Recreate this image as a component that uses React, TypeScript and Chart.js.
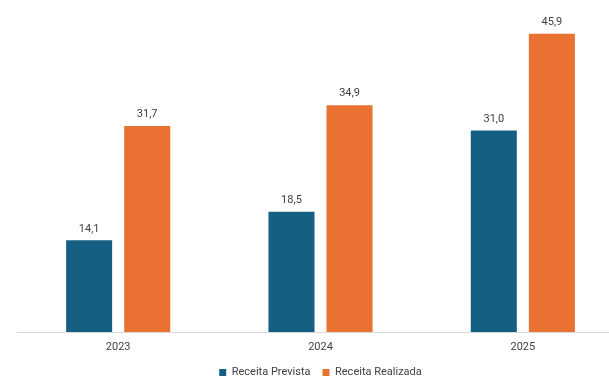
import React, { useEffect, useRef } from "react";
import { Chart, registerables } from "chart.js";

Chart.register(...registerables);

const categories = ["2023", "2024", "2025"];
const seriesNames = ["Receita Prevista", "Receita Realizada"];
const previstaValues = [14.1, 18.5, 31.0];
const realizadaValues = [31.7, 34.9, 45.9];
const seriesColors = ["#156082", "#E97132"];

const FONT = "Roboto, 'Liberation Sans', sans-serif";

const valueLabels = {
  id: "valueLabels",
  afterDatasetsDraw(chart: any) {
    const ctx = chart.ctx;
    ctx.save();
    ctx.font = `11px ${FONT}`;
    ctx.fillStyle = "#404040";
    ctx.textAlign = "center";
    ctx.textBaseline = "middle";
    chart.data.datasets.forEach((ds: any, di: number) => {
      const meta = chart.getDatasetMeta(di);
      meta.data.forEach((bar: any, i: number) => {
        const v = ds.data[i] as number;
        ctx.fillText(v.toFixed(1).replace(".", ","), bar.x, bar.y - 11.5);
      });
    });
    ctx.restore();
  },
};

export default function App() {
  const ref = useRef<HTMLCanvasElement | null>(null);

  useEffect(() => {
    document.body.style.overflow = "hidden";
    const canvas = ref.current;
    if (!canvas) return;
    const chart = new Chart(canvas, {
      type: "bar",
      data: {
        labels: categories,
        datasets: [
          {
            label: seriesNames[0],
            data: previstaValues,
            backgroundColor: seriesColors[0],
            categoryPercentage: 0.574,
            barPercentage: 0.793,
          },
          {
            label: seriesNames[1],
            data: realizadaValues,
            backgroundColor: seriesColors[1],
            categoryPercentage: 0.574,
            barPercentage: 0.793,
          },
        ],
      },
      options: {
        responsive: false,
        animation: false,
        layout: { padding: { top: 7, left: 17, right: 6, bottom: 0 } },
        plugins: {
          tooltip: { enabled: false },
          legend: {
            position: "bottom",
            maxHeight: 23,
            labels: {
              boxWidth: 7,
              boxHeight: 7,
              padding: 12,
              color: "#404040",
              font: { family: FONT, size: 11 },
            },
          },
        },
        scales: {
          x: {
            grid: { display: true, drawOnChartArea: false, drawTicks: false, color: "transparent" },
            border: { display: true, color: "#d9d9d9", width: 1 },
            ticks: { padding: 9, color: "#404040", font: { family: FONT, size: 11 } },
            afterFit: (scale: any) => {
              scale.height = 23;
            },
          },
          y: {
            display: false,
            min: 0,
            max: 50,
          },
        },
      },
      plugins: [valueLabels],
    });
    return () => chart.destroy();
  }, []);

  return (
    <div style={{ position: "fixed", left: 0, top: 0, width: 609, height: 378, overflow: "hidden", background: "#fff" }}>
      <canvas ref={ref} width={630} height={378} style={{ display: "block" }} />
    </div>
  );
}
